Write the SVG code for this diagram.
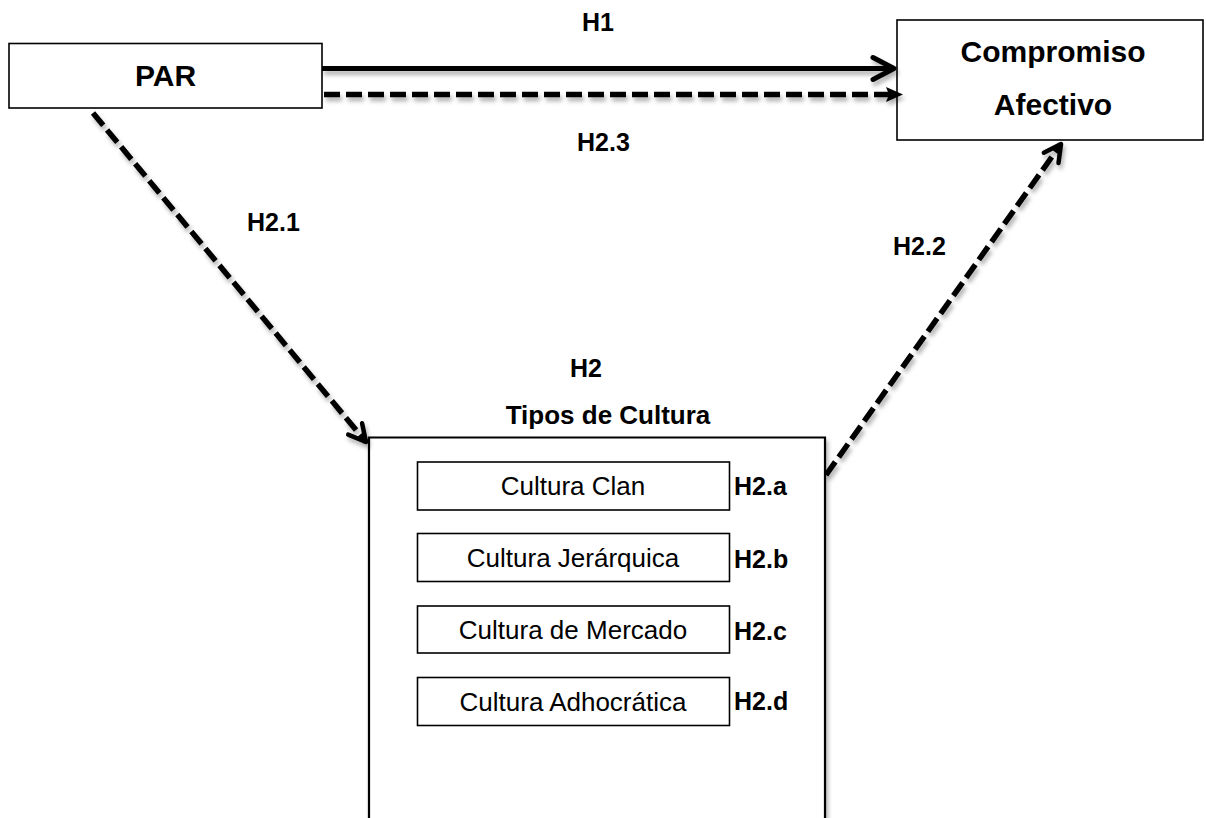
<svg xmlns="http://www.w3.org/2000/svg" width="1206" height="818" viewBox="0 0 1206 818">
  <style>
    .box { fill: #ffffff; stroke: #000000; stroke-width: 1.6; }
    .big { fill: #ffffff; stroke: #000000; stroke-width: 2.2; }
    .t { font-family: "Liberation Sans", Arial, sans-serif; fill: #000000; }
    .big-t { font-size: 30px; font-weight: bold; text-anchor: middle; }
    .lab { font-size: 25px; font-weight: bold; }
    .cult { font-size: 26px; text-anchor: middle; }
    .solid { fill: none; stroke: #000000; stroke-width: 5; }
    .dash { fill: none; stroke: #000000; stroke-width: 5.5; stroke-dasharray: 16 6; }
  </style>
  <defs>
    <filter id="shadow" x="-10%" y="-10%" width="120%" height="130%">
      <feDropShadow dx="2" dy="4" stdDeviation="2" flood-color="#000000" flood-opacity="0.3"/>
    </filter>
    <marker id="chev" markerUnits="userSpaceOnUse" viewBox="-26 -14 30 28" refX="0" refY="0" markerWidth="30" markerHeight="28" orient="auto" overflow="visible">
      <path d="M -21 -11 L 0 0 L -21 11" fill="none" stroke="#000000" stroke-width="5" stroke-linecap="round" stroke-linejoin="round"/>
    </marker>
    <marker id="chevS" markerUnits="userSpaceOnUse" viewBox="-22 -12 26 24" refX="0" refY="0" markerWidth="26" markerHeight="24" orient="auto" overflow="visible">
      <path d="M -17 -9 L 0 0 L -17 9" fill="none" stroke="#000000" stroke-width="4.5" stroke-linecap="round" stroke-linejoin="round"/>
    </marker>
    <marker id="tri" markerUnits="userSpaceOnUse" viewBox="-10 -10 24 20" refX="0" refY="0" markerWidth="24" markerHeight="20" orient="auto" overflow="visible">
      <path d="M -6 -7.5 L 11 0 L -6 7.5 L -3 0 Z" fill="#000000"/>
    </marker>
  </defs>

  <g id="node-par">
    <rect class="box" x="9" y="43.5" width="313" height="64.5"/>
    <text class="t big-t" x="165.5" y="86">PAR</text>
  </g>

  <g id="node-compromiso">
    <rect class="box" x="897" y="20" width="306" height="120"/>
    <text class="t big-t" x="1053" y="62" font-size="31">Compromiso</text>
    <text class="t big-t" x="1053" y="115" font-size="31">Afectivo</text>
  </g>

  <g id="node-tipos">
    <text class="t lab" x="586" y="377" text-anchor="middle">H2</text>
    <text class="t" x="608" y="424" text-anchor="middle" font-size="26" font-weight="bold">Tipos de Cultura</text>
    <path class="big" d="M 369 822 V 437.5 H 825 V 822" filter="url(#shadow)"/>
  </g>

  <g id="node-clan">
    <rect class="box" x="417.5" y="462" width="312" height="48"/>
    <text class="t cult" x="573" y="495">Cultura Clan</text>
    <text class="t lab" x="734" y="495">H2.a</text>
  </g>
  <g id="node-jerarquica">
    <rect class="box" x="417.5" y="533.5" width="312" height="48"/>
    <text class="t cult" x="573" y="567">Cultura Jerárquica</text>
    <text class="t lab" x="734" y="568">H2.b</text>
  </g>
  <g id="node-mercado">
    <rect class="box" x="417.5" y="606" width="312" height="47"/>
    <text class="t cult" x="573" y="639">Cultura de Mercado</text>
    <text class="t lab" x="734" y="640">H2.c</text>
  </g>
  <g id="node-adhocratica">
    <rect class="box" x="417.5" y="677.5" width="312" height="48"/>
    <text class="t cult" x="573" y="711">Cultura Adhocrática</text>
    <text class="t lab" x="734" y="710">H2.d</text>
  </g>

  <g id="connectors" filter="url(#shadow)">
    <g id="edge-h1">
      <line class="solid" x1="322" y1="68.5" x2="894" y2="68.5" marker-end="url(#chev)"/>
    </g>
    <g id="edge-h23">
      <line class="dash" x1="324" y1="94.5" x2="892" y2="94.5" marker-end="url(#tri)"/>
    </g>
    <g id="edge-h21">
      <line class="dash" x1="93" y1="113" x2="366" y2="442" marker-end="url(#chevS)"/>
    </g>
    <g id="edge-h22">
      <line class="dash" x1="826" y1="475" x2="1061" y2="144" marker-end="url(#chevS)"/>
    </g>
  </g>

  <g id="labels">
    <text class="t lab" x="582" y="31">H1</text>
    <text class="t lab" x="577" y="151">H2.3</text>
    <text class="t lab" x="247" y="231">H2.1</text>
    <text class="t lab" x="893" y="255">H2.2</text>
  </g>
</svg>
